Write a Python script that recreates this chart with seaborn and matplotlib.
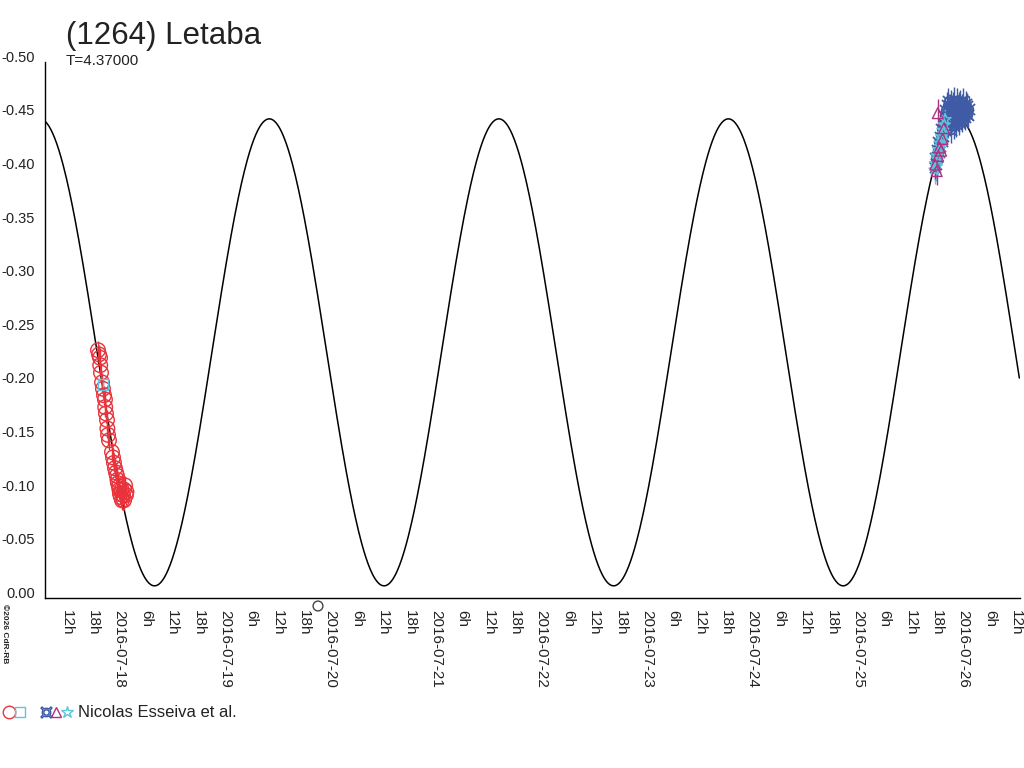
import pandas as pd
import numpy as np
import seaborn as sns
import matplotlib.pyplot as plt
import matplotlib.dates as mdates
from matplotlib.lines import Line2D
from matplotlib.ticker import FuncFormatter

sns.set_style('white')
plt.rcParams['font.family'] = ['Liberation Sans', 'DejaVu Sans']

# Fourier fit parameters (period, hours)
epoch = pd.Timestamp('2016-07-18 00:00')
fit_period_h = 52.22
fit_peak_h = 35.67
fit_mid = -0.229
fit_amp = 0.2177

x_left = pd.Timestamp('2016-07-17 08:38')
x_right = pd.Timestamp('2016-07-26 14:27')

# red circles (first night)
red_time = ['2016-07-17 20:42', '2016-07-17 20:56', '2016-07-17 21:10', '2016-07-17 21:12',
            '2016-07-17 21:23', '2016-07-17 21:37', '2016-07-17 21:50', '2016-07-17 22:04',
            '2016-07-17 22:17', '2016-07-17 22:20', '2016-07-17 22:31', '2016-07-17 22:45',
            '2016-07-17 22:50', '2016-07-17 22:59', '2016-07-17 23:12', '2016-07-17 23:53',
            '2016-07-18 00:07', '2016-07-18 00:20', '2016-07-18 00:34', '2016-07-18 00:48',
            '2016-07-18 01:01', '2016-07-18 01:08', '2016-07-18 01:15', '2016-07-18 01:29',
            '2016-07-18 01:35', '2016-07-18 01:42', '2016-07-18 01:56', '2016-07-18 02:05',
            '2016-07-18 02:10', '2016-07-18 02:23', '2016-07-18 02:37', '2016-07-18 02:40',
            '2016-07-18 02:51', '2016-07-18 03:04', '2016-07-18 03:10']
red_mag = [-0.231, -0.227, -0.224, -0.217,
           -0.210, -0.201, -0.195, -0.189,
           -0.185, -0.178, -0.172, -0.166,
           -0.158, -0.152, -0.147, -0.136,
           -0.131, -0.126, -0.121, -0.117,
           -0.114, -0.110, -0.107, -0.104,
           -0.101, -0.097, -0.094, -0.101,
           -0.091, -0.096, -0.091, -0.101,
           -0.105, -0.096, -0.099]
red_err = 0.009

# cyan squares (first night)
sq_time = ['2016-07-17 21:50']
sq_mag = [-0.199]

# blue crosses (second night)
blue_time = ['2016-07-25 19:00', '2016-07-25 19:10', '2016-07-25 19:20', '2016-07-25 19:30',
             '2016-07-25 19:40', '2016-07-25 19:50', '2016-07-25 20:00', '2016-07-25 20:10',
             '2016-07-25 20:20', '2016-07-25 20:30', '2016-07-25 20:40', '2016-07-25 20:50',
             '2016-07-25 21:00', '2016-07-25 21:10', '2016-07-25 21:20', '2016-07-25 21:30',
             '2016-07-25 21:40', '2016-07-25 21:50', '2016-07-25 22:00', '2016-07-25 22:10',
             '2016-07-25 22:20', '2016-07-25 22:30', '2016-07-25 22:40', '2016-07-25 22:50',
             '2016-07-25 23:00', '2016-07-25 23:10', '2016-07-25 23:20', '2016-07-25 23:30',
             '2016-07-25 23:40', '2016-07-25 23:50', '2016-07-26 00:00', '2016-07-26 00:10',
             '2016-07-26 00:20', '2016-07-26 00:30', '2016-07-26 00:40', '2016-07-26 00:50',
             '2016-07-26 01:00', '2016-07-26 01:10', '2016-07-26 01:20', '2016-07-26 01:30',
             '2016-07-26 01:40', '2016-07-26 01:50', '2016-07-26 02:00', '2016-07-26 02:10',
             '2016-07-26 02:20', '2016-07-26 02:30', '2016-07-26 02:40', '2016-07-26 02:50']
blue_mag = [-0.402, -0.410, -0.405, -0.418,
            -0.411, -0.425, -0.416, -0.430,
            -0.421, -0.437, -0.426, -0.443,
            -0.431, -0.449, -0.436, -0.455,
            -0.438, -0.460, -0.441, -0.463,
            -0.444, -0.458, -0.436, -0.462,
            -0.446, -0.460, -0.440, -0.464,
            -0.448, -0.457, -0.442, -0.463,
            -0.447, -0.460, -0.444, -0.462,
            -0.449, -0.458, -0.446, -0.463,
            -0.450, -0.456, -0.448, -0.461,
            -0.451, -0.459, -0.450, -0.456]
blue_err = 0.012

# magenta triangles
tri_time = ['2016-07-25 19:10', '2016-07-25 19:30', '2016-07-25 19:45', '2016-07-25 19:50',
            '2016-07-25 20:10', '2016-07-25 20:30', '2016-07-25 20:50', '2016-07-25 21:10']
tri_mag = [-0.404, -0.398, -0.452, -0.412, -0.420, -0.417, -0.428, -0.438]
tri_err = 0.013

# cyan stars
star_time = ['2016-07-25 19:05', '2016-07-25 19:15', '2016-07-25 19:25', '2016-07-25 19:35',
             '2016-07-25 19:45', '2016-07-25 19:55', '2016-07-25 20:05', '2016-07-25 20:15',
             '2016-07-25 20:25', '2016-07-25 20:35', '2016-07-25 20:45', '2016-07-25 20:55',
             '2016-07-25 21:05', '2016-07-25 21:15', '2016-07-25 21:25']
star_mag = [-0.399, -0.405, -0.402, -0.412, -0.409, -0.418, -0.415, -0.424,
            -0.421, -0.430, -0.427, -0.436, -0.433, -0.441, -0.446]
star_err = 0.013

# lone point below the axis
odd_time = ['2016-07-19 22:45']
odd_mag = [0.0075]

c_red = '#e8333c'
c_cyan = '#5cc6dc'
c_blue = '#3f5ba6'
c_mag = '#b03080'
c_text = '#222222'

# model curve
model_t = pd.date_range(x_left, x_right, freq='10min')
model_h = (model_t - epoch) / pd.Timedelta(hours=1)
model_m = fit_mid - fit_amp * np.cos(2 * np.pi * (model_h - fit_peak_h) / fit_period_h)
model = pd.DataFrame({'t': model_t, 'mag': model_m})

fig = plt.figure(figsize=(10.24, 7.68), dpi=100)
ax = fig.add_axes([0.0439, 0.2214, 0.9522, 0.6983])

sns.lineplot(x='t', y='mag', data=model, color='black', linewidth=1.1, ax=ax)

def obs(times, mags, err, color, marker, size, hollow=True, lw=1.0):
    t = pd.to_datetime(times)
    ax.errorbar(t, mags, yerr=err, fmt='none', ecolor=color, elinewidth=1, zorder=3)
    if hollow:
        sns.scatterplot(x=t, y=mags, marker=marker, s=size, facecolor='none',
                        edgecolor=color, linewidth=lw, ax=ax, zorder=4)
    else:
        sns.scatterplot(x=t, y=mags, marker=marker, s=size, color=color,
                        linewidth=0, ax=ax, zorder=4)

obs(red_time, red_mag, red_err, c_red, 'o', 110)
obs(sq_time, sq_mag, 0.005, c_cyan, 's', 60)
obs(blue_time, blue_mag, blue_err, c_blue, '$¤$', 80, hollow=False)
obs(star_time, star_mag, star_err, c_cyan, '*', 80)
obs(tri_time, tri_mag, tri_err, c_mag, '^', 60)

sns.scatterplot(x=pd.to_datetime(odd_time), y=odd_mag, marker='o', s=50, facecolor='none',
                edgecolor='#444444', linewidth=1, clip_on=False, ax=ax, zorder=5)

ax.set_xlim(x_left, x_right)
ax.set_ylim(0.0, -0.5)
ax.set_xlabel('')
ax.set_ylabel('')

ax.set_yticks(np.arange(0, -0.501, -0.05))
ax.yaxis.set_major_formatter(FuncFormatter(lambda v, p: '0.00' if abs(v) < 1e-9 else f'{v:.2f}'))

ax.xaxis.set_major_locator(mdates.HourLocator(byhour=[0, 6, 12, 18]))
ax.xaxis.set_minor_locator(mdates.HourLocator(byhour=range(0, 24, 2)))

def xlab(v, p):
    d = mdates.num2date(v)
    if d.hour == 0:
        return d.strftime('%Y-%m-%d')
    return f'{d.hour}h'

ax.xaxis.set_major_formatter(FuncFormatter(xlab))

ax.tick_params(axis='both', which='both', direction='out', color='black', width=1,
               labelcolor=c_text)
ax.tick_params(axis='x', which='both', length=6, pad=3, labelsize=11, labelrotation=-90)
ax.tick_params(axis='y', length=7, pad=0, labelsize=10.5)
for lab in ax.get_xticklabels():
    lab.set_ha('left')
    lab.set_va('top')
for lab in ax.get_yticklabels():
    lab.set_va('baseline')

for s in ['top', 'right']:
    ax.spines[s].set_visible(False)
for s in ['left', 'bottom']:
    ax.spines[s].set_color('black')
    ax.spines[s].set_linewidth(1)
ax.grid(False)

fig.text(66 / 1024, 1 - 44 / 768, '(1264) Letaba', fontsize=22.5, color=c_text, va='baseline')
fig.text(66 / 1024, 1 - 65 / 768, 'T=4.37000', fontsize=11, color=c_text, va='baseline')
fig.text(1 / 1024, 1 - 604 / 768, '©2026 CdR-RB', fontsize=6, rotation=-90, color=c_text,
         va='top', ha='left', fontweight='bold')

# legend row at the bottom
ly = 1 - 712 / 768
legend_marks = [(9, 'o', c_red, 9), (20, 's', c_cyan, 7), (46, '$¤$', c_blue, 8),
                (56, '^', c_mag, 7), (67, '*', c_cyan, 9)]
for px, mk, col, ms in legend_marks:
    fig.add_artist(Line2D([px / 1024], [ly], transform=fig.transFigure, marker=mk,
                          markersize=ms, markerfacecolor='none', markeredgecolor=col,
                          linestyle='none', markeredgewidth=1))
fig.text(78 / 1024, 1 - 717 / 768, 'Nicolas Esseiva et al.', fontsize=12, color=c_text,
         va='baseline')

fig.savefig('out.png', dpi=100)
